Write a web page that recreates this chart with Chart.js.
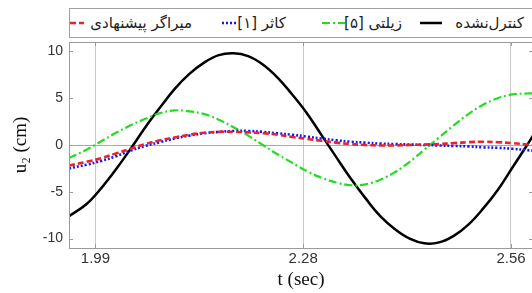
<!DOCTYPE html>
<html>
<head>
<meta charset="utf-8">
<script src="https://cdn.jsdelivr.net/npm/chart.js@4.4.1/dist/chart.umd.min.js"></script>
<style>
  html, body { margin:0; padding:0; background:#fff; overflow:hidden; width:532px; height:293px; }
  #wrap { position:relative; width:545px; height:293px; }
  #c { position:absolute; left:0; top:0; }
  #legend { position:absolute; left:69px; top:8px; width:480px; height:30px; border:1px solid #a0a0a0; background:#fff; box-sizing:border-box; }
  .ln { position:absolute; top:11px; display:block; }
  .tx { position:absolute; top:1px; line-height:26px; transform:translateX(-100%); white-space:nowrap;
        font-family:"DejaVu Sans","Noto Sans",sans-serif; font-size:15px; color:#222; }
</style>
</head>
<body>
<div id="wrap">
  <canvas id="c" width="545" height="293"></canvas>
  <div id="legend"></div>
</div>
<script>
// ---- data (t in seconds, u2 in cm) ----
const times = [1.956, 1.98, 2.00, 2.02, 2.04, 2.06, 2.08, 2.10, 2.12, 2.14, 2.16, 2.18, 2.20, 2.22, 2.24, 2.26, 2.28, 2.30, 2.32, 2.34, 2.36, 2.38, 2.40, 2.42, 2.44, 2.46, 2.48, 2.50, 2.52, 2.54, 2.56, 2.58, 2.588];
const uncontrolled = [-7.6, -6.3, -4.6, -2.6, -0.4, 1.9, 4.0, 6.0, 7.6, 8.8, 9.6, 9.8, 9.5, 8.6, 7.2, 5.4, 3.4, 1.05, -1.3, -3.6, -5.7, -7.6, -9.0, -10.0, -10.5, -10.4, -9.7, -8.5, -6.8, -4.8, -2.4, 0.0, 1.0];
const zilati = [-1.4, -0.5, 0.4, 1.3, 2.1, 2.8, 3.4, 3.7, 3.6, 3.3, 2.7, 1.9, 1.0, 0.0, -1.0, -1.9, -2.8, -3.5, -4.0, -4.3, -4.2, -3.7, -2.9, -1.8, -0.5, 0.8, 2.1, 3.3, 4.3, 5.0, 5.4, 5.5, 5.5];
const kasar = [-2.5, -2.1, -1.7, -1.2, -0.6, -0.1, 0.3, 0.7, 1.0, 1.25, 1.4, 1.5, 1.5, 1.4, 1.25, 1.1, 0.9, 0.7, 0.5, 0.35, 0.25, 0.15, 0.1, 0.05, 0.0, -0.05, -0.1, -0.15, -0.25, -0.3, -0.4, -0.55, -0.6];
const proposed = [-2.2, -1.8, -1.4, -0.9, -0.4, 0.1, 0.5, 0.8, 1.1, 1.3, 1.4, 1.4, 1.35, 1.25, 1.1, 0.85, 0.65, 0.45, 0.25, 0.1, 0.0, -0.05, -0.05, 0.0, 0.05, 0.1, 0.2, 0.3, 0.35, 0.3, 0.2, 0.05, 0.0];
const seriesNames = ['کنترل‌نشده', 'زیلتی [۵]', 'کاثر [۱]', 'میراگر پیشنهادی'];
const xTickValues = [1.992, 2.275, 2.558];
const xTickLabels = ['1.99', '2.28', '2.56'];
const yTickValues = [-10, -5, 0, 5, 10];
const yTickLabels = ['-10', '-5', '0', '5', '10'];

const styles = [
  { color:'#000000', width:2.5, dash:[] },
  { color:'#22dd22', width:2.2, dash:[8,3,2,3] },
  { color:'#1414ff', width:2.6, dash:[2,2] },
  { color:'#e8242a', width:2.6, dash:[6,3] }
];
const seriesData = [uncontrolled, zilati, kasar, proposed];

// HTML legend: page x of line start/end and text right edge
const legendPos = [
  { i:3, l0:70, l1:84, tr:192 },
  { i:2, l0:222, l1:236, tr:286 },
  { i:1, l0:322, l1:345, tr:402 },
  { i:0, l0:420, l1:442, tr:524 }
];
const leg = document.getElementById('legend');
const LX = 70; // legend inner left in page coords
legendPos.forEach(p => {
  const s = styles[p.i];
  const w = p.l1 - p.l0;
  const ln = document.createElementNS('http://www.w3.org/2000/svg', 'svg');
  ln.setAttribute('class', 'ln');
  ln.setAttribute('width', w); ln.setAttribute('height', 6);
  ln.style.left = (p.l0 - LX) + 'px';
  ln.innerHTML = '<line x1="0" y1="3" x2="'+w+'" y2="3" stroke="'+s.color+'" stroke-width="'+s.width+'" stroke-dasharray="'+(s.dash.length? s.dash.join(','):'none')+'"/>';
  leg.appendChild(ln);
  const t = document.createElement('span');
  t.className = 'tx';
  t.dir = 'rtl';
  t.style.left = (p.tr - LX) + 'px';
  t.textContent = seriesNames[p.i];
  leg.appendChild(t);
});

const frame = {
  id:'frame',
  afterDraw(chart) {
    const {ctx, chartArea:a, scales} = chart;
    ctx.save();
    ctx.strokeStyle = '#9a9a9a';
    ctx.lineWidth = 1;
    ctx.setLineDash([]);
    ctx.strokeRect(Math.round(a.left)+0.5, Math.round(a.top)+0.5, Math.round(a.right-a.left), Math.round(a.bottom-a.top));
    ctx.beginPath();
    scales.y.ticks.forEach(t => {
      const y = Math.round(scales.y.getPixelForValue(t.value))+0.5;
      ctx.moveTo(a.left, y); ctx.lineTo(a.left+4, y);
      ctx.moveTo(a.right, y); ctx.lineTo(a.right-4, y);
    });
    scales.x.ticks.forEach(t => {
      const x = Math.round(scales.x.getPixelForValue(t.value))+0.5;
      ctx.moveTo(x, a.bottom); ctx.lineTo(x, a.bottom-4);
      ctx.moveTo(x, a.top); ctx.lineTo(x, a.top+4);
    });
    ctx.stroke();
    ctx.restore();
  }
};

new Chart(document.getElementById('c'), {
  type:'line',
  data:{
    datasets: seriesData.map((arr, k) => ({
      label: seriesNames[k],
      data: times.map((t, j) => ({x:t, y:arr[j]})),
      borderColor: styles[k].color,
      borderWidth: styles[k].width,
      borderDash: styles[k].dash,
      pointRadius:0,
      tension:0.4,
      fill:false
    })).reverse()
  },
  options:{
    responsive:false,
    animation:false,
    layout:{ padding:{ top:42, right:12, left:0, bottom:0 } },
    plugins:{ legend:{display:false}, tooltip:{enabled:false} },
    scales:{
      x:{
        type:'linear', min:1.956, max:2.588,
        afterBuildTicks(s){ s.ticks = xTickValues.map(v => ({value:v})); },
        afterFit(s){ s.height = 45; },
        ticks:{ callback:(v, i) => xTickLabels[i], color:'#333', font:{family:'Liberation Sans, Arial', size:15}, padding:2, maxRotation:0, autoSkip:false },
        grid:{ color:'#c9c9c9', lineWidth:1, drawTicks:false },
        border:{ display:false },
        title:{ display:true, text:'t (sec)', color:'#111', font:{family:'Liberation Serif, Times New Roman', size:19}, padding:{top:0,bottom:2} }
      },
      y:{
        min:-11, max:11,
        afterBuildTicks(s){ s.ticks = yTickValues.map(v => ({value:v})); },
        afterFit(s){ s.width = 69; },
        ticks:{ callback:(v, i) => yTickLabels[i], color:'#333', font:{family:'Liberation Sans, Arial', size:14}, padding:6 },
        grid:{ color:(c) => c.tick && c.tick.value === 0 ? '#a8a8a8' : 'rgba(0,0,0,0)', lineWidth:1, drawTicks:false },
        border:{ display:false },
        title:{ display:true, text:'u₂ (cm)', color:'#111', font:{family:'Liberation Serif, Times New Roman', size:19}, padding:{top:10,bottom:0} }
      }
    }
  },
  plugins:[frame]
});
</script>
</body>
</html>
